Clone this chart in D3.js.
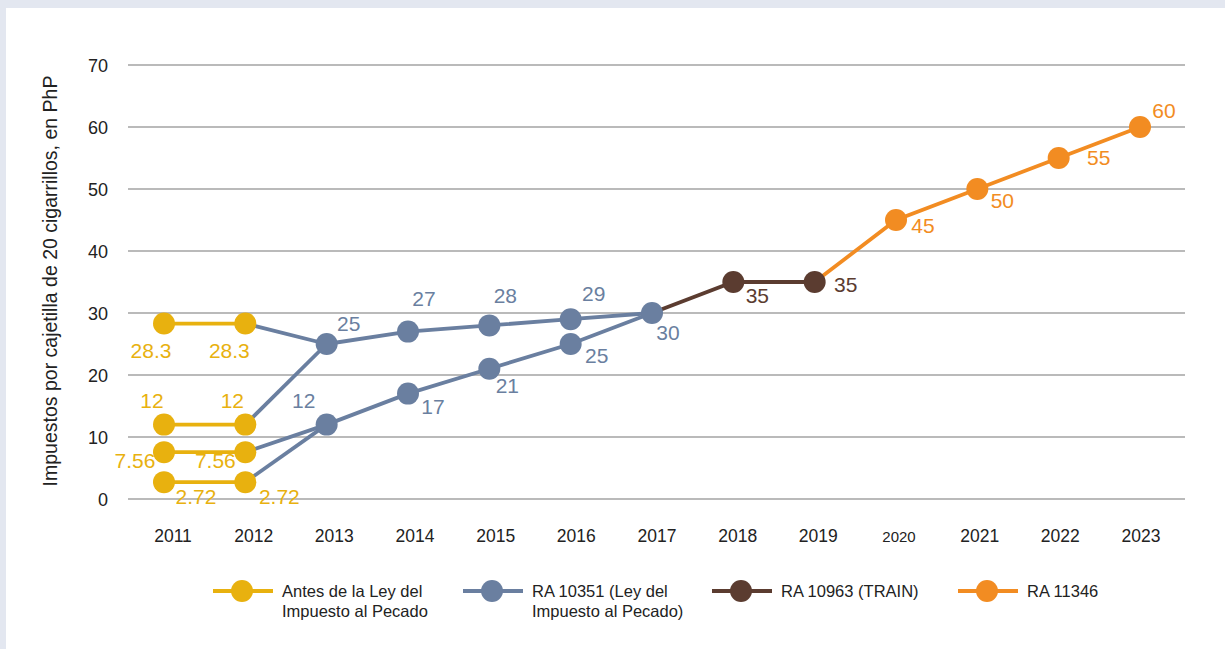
<!DOCTYPE html>
<html>
<head>
<meta charset="utf-8">
<script src="https://cdn.jsdelivr.net/npm/d3@7"></script>
<style>
  body { margin: 0; background: #e3e7f0; }
  svg { display: block; font-family: "Liberation Sans", Arial, sans-serif; }
</style>
</head>
<body>
<script>
// years on the x axis
var years = ["2011","2012","2013","2014","2015","2016","2017","2018","2019","2020","2021","2022","2023"];
var yTicks = [0, 10, 20, 30, 40, 50, 60, 70];

// before the sin tax law (four tiers, 2011-2012)
var antesTiers = [28.3, 12, 7.56, 2.72];

// RA 10351 - two tiers converging to one rate in 2017
var raHighYears = ["2012","2013","2014","2015","2016","2017"];
var raHigh = [28.3, 25, 27, 28, 29, 30];
var raLowYears = ["2013","2014","2015","2016","2017"];
var raLow = [12, 17, 21, 25, 30];
// 2012 tiers joining the 2013 tiers
var raLinkFrom = [28.3, 12, 7.56, 2.72];
var raLinkTo = [25, 25, 12, 12];

// RA 10963 (TRAIN)
var trainYears = ["2017","2018","2019"];
var train = [30, 35, 35];

// RA 11346
var ra11346Years = ["2019","2020","2021","2022","2023"];
var ra11346 = [35, 45, 50, 55, 60];

var legendNames = [
  ["Antes de la Ley del", "Impuesto al Pecado"],
  ["RA 10351 (Ley del", "Impuesto al Pecado)"],
  ["RA 10963 (TRAIN)"],
  ["RA 11346"]
];

var colors = { antes: "#e8b10f", ra: "#6a7fa0", train: "#5b3c30", ra11346: "#f28c22" };
var legendColors = [colors.antes, colors.ra, colors.train, colors.ra11346];

var width = 1225, height = 649;

var svg = d3.select("body").append("svg")
    .attr("width", width)
    .attr("height", height);

//white panel
svg.append("rect")
    .attr("x", 6).attr("y", 8)
    .attr("width", width - 6).attr("height", height - 8)
    .attr("fill", "#fff");

var x = d3.scalePoint()
    .domain(years)
    .range([164, 1140]);

//tick labels sit a little right of the points
var xLabel = d3.scalePoint()
    .domain(years)
    .range([173, 1141]);

var y = d3.scaleLinear()
    .domain([0, 70])
    .range([499, 65]);

//gridlines
svg.selectAll(".grid")
    .data(yTicks)
    .enter().append("line")
    .attr("x1", 128).attr("x2", 1185)
    .attr("y1", function(d){ return y(d); })
    .attr("y2", function(d){ return y(d); })
    .attr("stroke", "#a3a3a3")
    .attr("stroke-width", 1.6);

//y tick labels
svg.selectAll(".ytick")
    .data(yTicks)
    .enter().append("text")
    .attr("x", 108)
    .attr("y", function(d){ return y(d) + 6.5; })
    .attr("text-anchor", "end")
    .attr("font-size", 18)
    .attr("fill", "#222")
    .text(function(d){ return d; });

//x tick labels
svg.selectAll(".xtick")
    .data(years)
    .enter().append("text")
    .attr("x", function(d){ return xLabel(d); })
    .attr("y", 542)
    .attr("text-anchor", "middle")
    .attr("font-size", function(d){ return d == "2020" ? 15 : 17.5; })
    .attr("fill", "#222")
    .text(function(d){ return d; });

//y axis title
svg.append("text")
    .attr("transform", "translate(57,281) rotate(-90)")
    .attr("text-anchor", "middle")
    .attr("font-size", 19.5)
    .attr("fill", "#222")
    .text("Impuestos por cajetilla de 20 cigarrillos, en PhP");

var line = d3.line()
    .x(function(d){ return x(d[0]); })
    .y(function(d){ return y(d[1]); });

function drawLine(pts, color){
    svg.append("path")
        .datum(pts)
        .attr("d", line)
        .attr("fill", "none")
        .attr("stroke", color)
        .attr("stroke-width", 3.8);
}

function drawDots(pts, color){
    svg.selectAll(null)
        .data(pts)
        .enter().append("circle")
        .attr("cx", function(d){ return x(d[0]); })
        .attr("cy", function(d){ return y(d[1]); })
        .attr("r", 11)
        .attr("fill", color);
}

function zip(ys, vs){
    return ys.map(function(yr, i){ return [yr, vs[i]]; });
}

//RA 10351 lines
raLinkFrom.forEach(function(v, i){
    drawLine([["2012", v], ["2013", raLinkTo[i]]], colors.ra);
});
drawLine(zip(raHighYears.slice(1), raHigh.slice(1)), colors.ra);
drawLine(zip(raLowYears, raLow), colors.ra);

//TRAIN and RA 11346 lines
drawLine(zip(trainYears, train), colors.train);
drawLine(zip(ra11346Years, ra11346), colors.ra11346);

//before the law
antesTiers.forEach(function(v){
    drawLine([["2011", v], ["2012", v]], colors.antes);
});

//dots
var antesPts = [];
antesTiers.forEach(function(v){ antesPts.push(["2011", v], ["2012", v]); });
drawDots(zip(raHighYears.slice(1, 5), raHigh.slice(1, 5)), colors.ra);
drawDots(zip(raLowYears.slice(0, 4), raLow.slice(0, 4)), colors.ra);
drawDots([["2017", 30]], colors.ra);
drawDots(zip(trainYears.slice(1), train.slice(1)), colors.train);
drawDots(zip(ra11346Years.slice(1), ra11346.slice(1)), colors.ra11346);
drawDots(antesPts, colors.antes);

//data labels: [year, value, dx, dy]
function drawLabels(items, color){
    svg.selectAll(null)
        .data(items)
        .enter().append("text")
        .attr("x", function(d){ return x(d[0]) + d[2]; })
        .attr("y", function(d){ return y(d[1]) + d[3]; })
        .attr("text-anchor", "middle")
        .attr("font-size", 21)
        .attr("fill", color)
        .text(function(d){ return d[1]; });
}

drawLabels([
    ["2011", 28.3, -13, 34], ["2012", 28.3, -16, 34],
    ["2011", 12, -12, -17], ["2012", 12, -13, -17],
    ["2011", 7.56, -29, 16], ["2012", 7.56, -30, 16],
    ["2011", 2.72, 32, 22], ["2012", 2.72, 34, 22]
], colors.antes);

drawLabels([
    ["2013", 25, 22, -13], ["2014", 27, 16, -26], ["2015", 28, 16, -22],
    ["2016", 29, 23, -18], ["2017", 30, 16, 27],
    ["2013", 12, -23, -17], ["2014", 17, 25, 20], ["2015", 21, 18, 24],
    ["2016", 25, 26, 19]
], colors.ra);

drawLabels([["2018", 35, 24, 21], ["2019", 35, 31, 10]], colors.train);

drawLabels([
    ["2020", 45, 27, 13], ["2021", 50, 25, 19], ["2022", 55, 40, 7], ["2023", 60, 24, -9]
], colors.ra11346);

//legend
var legendX = [213, 463, 712, 958];
var legend = svg.selectAll(".legend")
    .data(legendNames)
    .enter().append("g")
    .attr("transform", function(d, i){ return "translate(" + legendX[i] + ",591)"; });

legend.append("line")
    .attr("x1", 0).attr("x2", 60)
    .attr("stroke", function(d, i){ return legendColors[i]; })
    .attr("stroke-width", 3.8);

legend.append("circle")
    .attr("cx", 29).attr("r", 11)
    .attr("fill", function(d, i){ return legendColors[i]; });

legend.each(function(d){
    var t = d3.select(this).append("text")
        .attr("x", 69).attr("y", 6)
        .attr("font-size", 16.5)
        .attr("fill", "#222");
    d.forEach(function(s, j){
        t.append("tspan").attr("x", 69).attr("dy", j == 0 ? 0 : 20).text(s);
    });
});
</script>
</body>
</html>
